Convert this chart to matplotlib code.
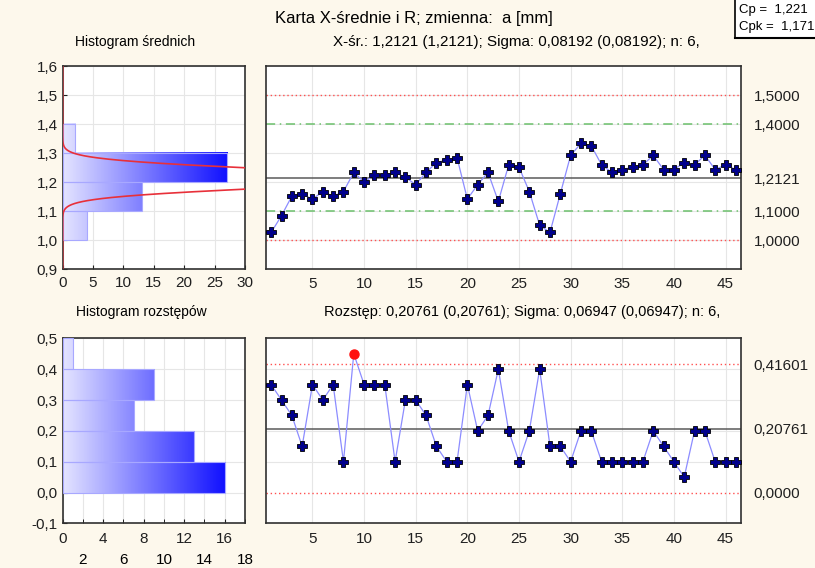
import matplotlib
matplotlib.use("Agg")
import matplotlib.pyplot as plt
from matplotlib.colors import LinearSegmentedColormap
from matplotlib.ticker import FuncFormatter
import numpy as np

plt.rcParams['font.family'] = ['Liberation Sans', 'DejaVu Sans']

# dane: srednie podgrup
samples = np.arange(1, 47)
means = [1.026, 1.084, 1.151, 1.159, 1.141, 1.167, 1.151, 1.167, 1.233, 1.200,
         1.224, 1.224, 1.233, 1.216, 1.191, 1.233, 1.267, 1.276, 1.284, 1.141,
         1.191, 1.233, 1.133, 1.259, 1.251, 1.167, 1.051, 1.026, 1.159, 1.292,
         1.333, 1.325, 1.259, 1.233, 1.243, 1.251, 1.259, 1.292, 1.243, 1.243,
         1.267, 1.259, 1.292, 1.243, 1.259, 1.243]
# dane: rozstepy podgrup
ranges = [0.35, 0.30, 0.25, 0.15, 0.35, 0.30, 0.35, 0.10, 0.45, 0.35,
          0.35, 0.35, 0.10, 0.30, 0.30, 0.25, 0.15, 0.10, 0.10, 0.35,
          0.20, 0.25, 0.40, 0.20, 0.10, 0.20, 0.40, 0.15, 0.15, 0.10,
          0.20, 0.20, 0.10, 0.10, 0.10, 0.10, 0.10, 0.20, 0.15, 0.10,
          0.05, 0.20, 0.20, 0.10, 0.10, 0.10]

# histogramy
mean_bins = [1.0, 1.1, 1.2, 1.3, 1.4]
mean_counts = [4, 13, 27, 2]
range_bins = [0.0, 0.1, 0.2, 0.3, 0.4, 0.5]
range_counts = [16, 13, 7, 9, 1]

# linie kontrolne
x_center, x_lcl, x_ucl = 1.2121, 1.0, 1.5
x_warn = [1.1, 1.4]
r_center, r_lcl, r_ucl = 0.20761, 0.0, 0.41601
sigma, n = 0.08192, 6

bg = '#fdf8ec'
cmap = LinearSegmentedColormap.from_list('grad', ['#e4e4ff', '#1010ff'])
comma = FuncFormatter(lambda v, p: f'{v:.1f}'.replace('.', ','))
intfmt = FuncFormatter(lambda v, p: f'{v:.0f}')
FS = 11
mk = dict(ls='none', marker='P', ms=7.8, mfc='#00008c', mec='black', mew=0.6, zorder=3)

fig = plt.figure(figsize=(8.15, 5.68), dpi=100, facecolor=bg)


def grad_hist(ax, bins, counts):
    vmax = max(counts)
    for i, c in enumerate(counts):
        y0, y1 = bins[i], bins[i + 1]
        g = np.linspace(0, c / vmax, 256).reshape(1, -1)
        ax.imshow(g, cmap=cmap, vmin=0, vmax=1, extent=(0, c, y0, y1),
                  aspect='auto', origin='lower', zorder=2)
        ax.add_patch(plt.Rectangle((0, y0), c, y1 - y0, fill=False,
                                   ec='#a8a8ff', lw=0.8, zorder=3))


def style(ax):
    ax.set_facecolor('white')
    for s in ax.spines.values():
        s.set_color('#303030')
        s.set_linewidth(1.2)
    ax.tick_params(labelsize=FS, colors='#202020')


# --- histogram srednich ---
ax1 = fig.add_axes([0.0769, 0.5264, 0.2237, 0.3574])
style(ax1)
grad_hist(ax1, mean_bins, mean_counts)
yy = np.linspace(0.9, 1.6, 600)
sx = sigma / np.sqrt(n)
curve = len(means) * 0.1 * np.exp(-0.5 * ((yy - x_center) / sx) ** 2) / (sx * np.sqrt(2 * np.pi))
ax1.plot(curve, yy, color='#e8303a', lw=1.2, zorder=4)
ax1.set_xlim(0, 30)
ax1.set_ylim(0.9, 1.6)
ax1.set_xticks(range(0, 31, 5))
ax1.set_yticks(np.arange(0.9, 1.61, 0.1))
ax1.yaxis.set_major_formatter(comma)
ax1.grid(color='#e6e6e6', lw=0.8, zorder=0)
ax1.set_axisbelow(True)
ax1.tick_params(direction='in', length=3)
ax1.tick_params(axis='x', pad=5)

# --- karta srednich ---
ax2 = fig.add_axes([0.3264, 0.5264, 0.5828, 0.3574])
style(ax2)
ax2.set_xlim(0.5, 46.5)
ax2.set_ylim(0.9, 1.6)
for v in np.arange(1.0, 1.51, 0.1):
    ax2.axhline(v, color='#e6e6e6', lw=0.8, zorder=0)
for v in range(5, 46, 5):
    ax2.axvline(v, color='#e6e6e6', lw=0.8, zorder=0)
for v in (x_lcl, x_ucl):
    ax2.axhline(v, color='#ff5050', lw=1, ls=(0, (1, 2)), zorder=1)
for v in x_warn:
    ax2.axhline(v, color='#6cc06c', lw=1.1, ls=(0, (6, 3, 1, 3)), zorder=1)
ax2.axhline(x_center, color='#5a5a5a', lw=1.1, zorder=1)
ax2.plot(samples, means, color='#8c8cff', lw=0.9, zorder=2)
ax2.plot(samples, means, **mk)
ax2.set_xticks(range(5, 46, 5))
ax2.xaxis.set_major_formatter(intfmt)
ax2.tick_params(axis='x', length=0, pad=6)
ax2.yaxis.tick_right()
ax2.set_yticks([x_lcl, 1.1, x_center, 1.4, x_ucl])
ax2.set_yticklabels(['1,0000', '1,1000', '1,2121', '1,4000', '1,5000'])
ax2.tick_params(axis='y', length=0, pad=9)

# --- histogram rozstepow ---
ax3 = fig.add_axes([0.0769, 0.0786, 0.2237, 0.3257])
style(ax3)
grad_hist(ax3, range_bins, range_counts)
ax3.set_xlim(0, 18)
ax3.set_ylim(-0.1, 0.5)
ax3.set_xticks([0, 4, 8, 12, 16])
ax3.set_xticks([2, 6, 10, 14, 18], minor=True)
ax3.xaxis.set_major_formatter(intfmt)
ax3.xaxis.set_minor_formatter(intfmt)
ax3.tick_params(axis='x', which='both', direction='in', length=3, labelsize=FS)
ax3.tick_params(axis='x', which='major', pad=6)
ax3.tick_params(axis='x', which='minor', pad=21)
ax3.set_yticks(np.arange(-0.1, 0.51, 0.1))
ax3.yaxis.set_major_formatter(comma)
ax3.tick_params(axis='y', direction='in', length=3)
ax3.grid(which='both', color='#e6e6e6', lw=0.8, zorder=0)
ax3.set_axisbelow(True)

# --- karta rozstepow ---
ax4 = fig.add_axes([0.3264, 0.0786, 0.5828, 0.3257])
style(ax4)
ax4.set_xlim(0.5, 46.5)
ax4.set_ylim(-0.1, 0.5)
for v in np.arange(0.1, 0.41, 0.1):
    ax4.axhline(v, color='#e6e6e6', lw=0.8, zorder=0)
for v in range(5, 46, 5):
    ax4.axvline(v, color='#e6e6e6', lw=0.8, zorder=0)
for v in (r_lcl, r_ucl):
    ax4.axhline(v, color='#ff5050', lw=1, ls=(0, (1, 2)), zorder=1)
ax4.axhline(r_center, color='#5a5a5a', lw=1.1, zorder=1)
ax4.plot(samples, ranges, color='#8c8cff', lw=0.9, zorder=2)
r = np.array(ranges)
out = r > r_ucl
ax4.plot(samples[~out], r[~out], **mk)
ax4.plot(samples[out], r[out], ls='none', marker='o', ms=6.5, mfc='#ff1010',
         mec='#ff1010', zorder=3)
ax4.set_xticks(range(5, 46, 5))
ax4.xaxis.set_major_formatter(intfmt)
ax4.tick_params(axis='x', length=0, pad=6)
ax4.yaxis.tick_right()
ax4.set_yticks([r_lcl, r_center, r_ucl])
ax4.set_yticklabels(['0,0000', '0,20761', '0,41601'])
ax4.tick_params(axis='y', length=0, pad=9)

# --- teksty ---
fig.text(0.508, 0.968, 'Karta X-średnie i R; zmienna:  a [mm]', ha='center', va='center', fontsize=12)
fig.text(0.166, 0.926, 'Histogram średnich', ha='center', va='center', fontsize=10)
fig.text(0.634, 0.926, 'X-śr.: 1,2121 (1,2121); Sigma: 0,08192 (0,08192); n: 6,',
         ha='center', va='center', fontsize=10.9)
fig.text(0.174, 0.451, 'Histogram rozstępów', ha='center', va='center', fontsize=10)
fig.text(0.641, 0.451, 'Rozstęp: 0,20761 (0,20761); Sigma: 0,06947 (0,06947); n: 6,',
         ha='center', va='center', fontsize=10.5)

# ramka Cp / Cpk
axc = fig.add_axes([0.902, 0.933, 0.11, 0.067])
axc.set_facecolor('white')
axc.set_xticks([])
axc.set_yticks([])
axc.spines['top'].set_visible(False)
axc.spines['right'].set_visible(False)
axc.spines['left'].set_linewidth(1.2)
axc.spines['bottom'].set_linewidth(1.5)
axc.text(0.04, 0.73, 'Cp =  1,221', fontsize=9.5, va='center', transform=axc.transAxes)
axc.text(0.04, 0.28, 'Cpk =  1,171', fontsize=9.5, va='center', transform=axc.transAxes)

fig.savefig('out.png', dpi=100, facecolor=bg)
